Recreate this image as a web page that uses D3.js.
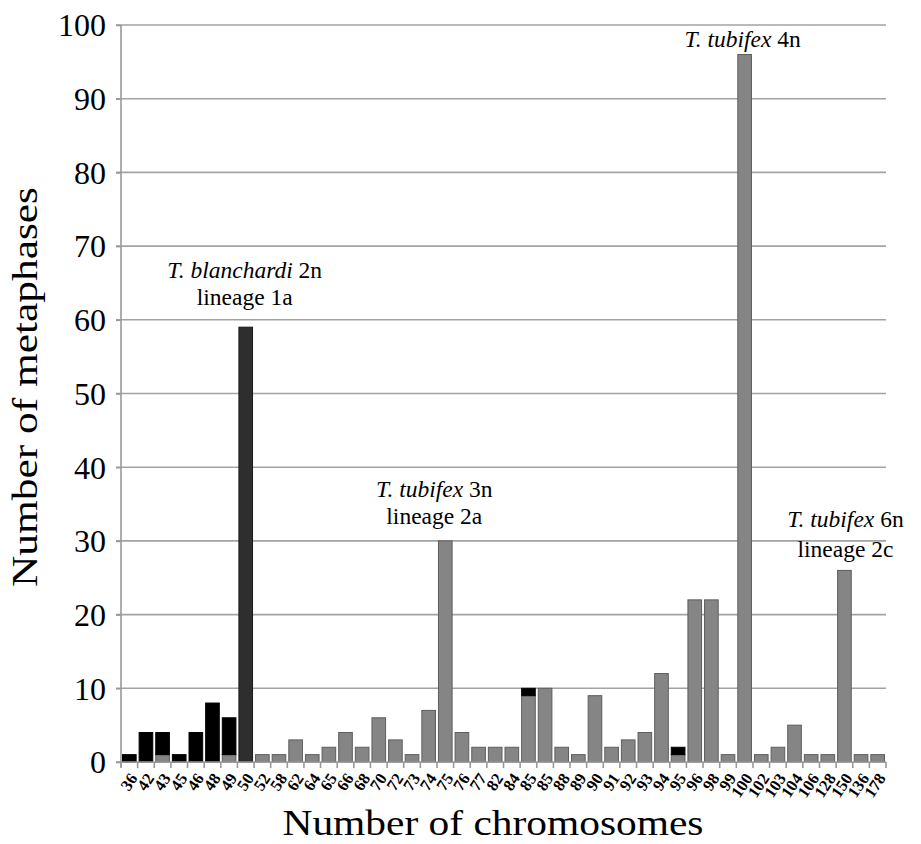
<!DOCTYPE html>
<html>
<head>
<meta charset="utf-8">
<script src="https://cdn.jsdelivr.net/npm/d3@7"></script>
<style>
  html, body { margin: 0; padding: 0; background: #fff; }
  svg { display: block; }
  text { font-family: "Liberation Serif", "Times New Roman", serif; fill: #000; }
</style>
</head>
<body>
<svg id="chart" width="921" height="844"></svg>
<script>
// ---- data ----
const categories = ["36","42","43","45","46","48","49","50","52","58","62","64","65","66","68","70","72","73","74","75","76","77","82","84","85","85","88","89","90","91","92","93","94","95","96","98","99","100","102","103","104","106","128","150","136","178"];
const grayValues  = [0,0,1,0,0,0,1,0, 1,1,3,1,2,4,2,6,3,1,7,30,4,2,2,2,9,10,2,1,9,2,3,4,12,1,22,22,1,96,1,2,5,1,1,26,1,1];
const blackValues = [1,4,3,1,4,8,5,0, 0,0,0,0,0,0,0,0,0,0,0,0,0,0,0,0,1,0,0,0,0,0,0,0,0,1,0,0,0,0,0,0,0,0,0,0,0,0];
const darkValues  = [0,0,0,0,0,0,0,59,0,0,0,0,0,0,0,0,0,0,0,0,0,0,0,0,0,0,0,0,0,0,0,0,0,0,0,0,0,0,0,0,0,0,0,0,0,0];
const yTicks = [0,10,20,30,40,50,60,70,80,90,100];
const annotations = [
  { index: 7,  line1: ["T. blanchardi", " 2n"], line2: "lineage 1a" },
  { index: 19, line1: ["T. tubifex", " 3n"],    line2: "lineage 2a" },
  { index: 37, line1: ["T. tubifex", " 4n"],    line2: null },
  { index: 43, line1: ["T. tubifex", " 6n"],    line2: "lineage 2c" }
];
const seriesKeys = ["gray", "black", "dark"];
const xTitle = "Number of chromosomes";
const yTitle = "Number of metaphases";

// ---- build table ----
const table = categories.map((c, i) => ({
  key: String(i), label: c,
  gray: grayValues[i], black: blackValues[i], dark: darkValues[i]
}));

const svg = d3.select("#chart");
const pLeft = 121, pRight = 886, pTop = 25, pBottom = 762;

const x = d3.scaleBand()
  .domain(table.map(d => d.key))
  .range([pLeft, pRight])
  .paddingInner(0.18)
  .paddingOuter(0.09);
const y = d3.scaleLinear().domain([0, 100]).range([pBottom, pTop]);

const fills = { gray: "#858585", black: "#000000", dark: "#2e2e2e" };
const strokes = { gray: "#5e5e5e", black: "#000000", dark: "#1a1a1a" };

// grid lines
svg.append("g").selectAll("line")
  .data(yTicks.filter(t => t > 0))
  .join("line")
  .attr("x1", pLeft - 5).attr("x2", pRight)
  .attr("y1", d => y(d)).attr("y2", d => y(d))
  .attr("stroke", "#a3a3a3").attr("stroke-width", 1.6);

// bars
const stacked = d3.stack().keys(seriesKeys)(table);
svg.append("g").selectAll("g")
  .data(stacked)
  .join("g")
  .attr("fill", s => fills[s.key])
  .attr("stroke", s => strokes[s.key])
  .attr("stroke-width", 1)
  .selectAll("rect")
  .data(s => s.filter(d => d[1] - d[0] > 0))
  .join("rect")
  .attr("x", d => x(d.data.key))
  .attr("width", x.bandwidth())
  .attr("y", d => y(d[1]))
  .attr("height", d => y(d[0]) - y(d[1]));

// y axis
const yAxis = d3.axisLeft(y).tickValues(yTicks).tickSize(5).tickPadding(10);
const gy = svg.append("g").attr("transform", `translate(${pLeft},0)`).call(yAxis);
gy.select(".domain").attr("stroke", "#999").attr("stroke-width", 1.6)
  .attr("d", `M0,${pTop}V${pBottom + 5}`);
gy.selectAll(".tick line").attr("stroke", "#999").attr("stroke-width", 1.6);
gy.selectAll(".tick text")
  .style("font-family", "'Liberation Serif', serif")
  .style("font-size", "32px").attr("fill", "#000").attr("dy", "0.34em");

// x axis
const step = x.step();
const boundaries = d3.range(categories.length + 1).map(i => pLeft + i * step);
const gx = svg.append("g");
gx.append("line")
  .attr("x1", pLeft - 5).attr("x2", pRight)
  .attr("y1", pBottom).attr("y2", pBottom)
  .attr("stroke", "#999").attr("stroke-width", 1.6);
gx.selectAll("line.tk").data(boundaries).join("line").attr("class", "tk")
  .attr("x1", d => d).attr("x2", d => d)
  .attr("y1", pBottom).attr("y2", pBottom + 6)
  .attr("stroke", "#999").attr("stroke-width", 1.6);
gx.selectAll("text").data(table).join("text")
  .attr("transform", d => `translate(${x(d.key) + x.bandwidth() / 2 + 4},${pBottom + 13}) rotate(-56)`)
  .attr("text-anchor", "end")
  .attr("dy", "0.35em")
  .style("font-size", "16.5px").style("font-weight", "bold")
  .text(d => d.label);

// axis titles
svg.append("text")
  .attr("x", 493).attr("y", 835)
  .attr("text-anchor", "middle")
  .attr("textLength", 421).attr("lengthAdjust", "spacingAndGlyphs")
  .style("font-size", "35px")
  .text(xTitle);
svg.append("text")
  .attr("transform", "translate(37,387) rotate(-90)")
  .attr("text-anchor", "middle")
  .attr("textLength", 400).attr("lengthAdjust", "spacingAndGlyphs")
  .style("font-size", "36px")
  .text(yTitle);

// annotations
const annOffsets = [
  { dx: -1, y1: -49, y2: -22 },
  { dx: -11, y1: -44, y2: -17 },
  { dx: -2, y1: -7, y2: 0 },
  { dx: 1, y1: -43, y2: -13 }
];
annotations.forEach((a, k) => {
  const total = grayValues[a.index] + blackValues[a.index] + darkValues[a.index];
  const cx = x(String(a.index)) + x.bandwidth() / 2 + annOffsets[k].dx;
  const ty = y(total);
  const t1 = svg.append("text")
    .attr("x", cx).attr("y", ty + annOffsets[k].y1)
    .attr("text-anchor", "middle").style("font-size", "23.5px");
  t1.append("tspan").style("font-style", "italic").text(a.line1[0]);
  t1.append("tspan").text(a.line1[1]);
  if (a.line2) {
    svg.append("text")
      .attr("x", cx).attr("y", ty + annOffsets[k].y2)
      .attr("text-anchor", "middle").style("font-size", "23.5px")
      .text(a.line2);
  }
});
</script>
</body>
</html>
